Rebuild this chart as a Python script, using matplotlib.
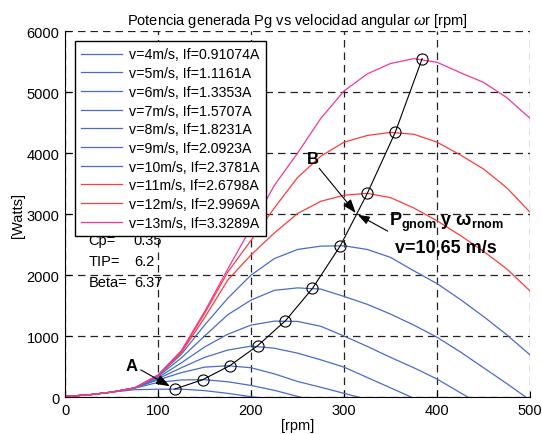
import matplotlib
matplotlib.use('Agg')
import matplotlib.pyplot as plt
import numpy as np

# Configuración estética (estilo Matlab)
plt.rcParams['font.family'] = ['Liberation Sans', 'DejaVu Sans']
plt.rcParams['mathtext.fontset'] = 'custom'
plt.rcParams['mathtext.rm'] = 'Liberation Sans'
plt.rcParams['mathtext.it'] = 'Liberation Sans:italic'
plt.rcParams['mathtext.bf'] = 'Liberation Sans:bold'
plt.rcParams['xtick.direction'] = 'in'
plt.rcParams['ytick.direction'] = 'in'

# Datos
rpm = [0, 25, 50, 75, 100, 125, 150, 175, 200, 225, 250, 275, 300, 325, 350,
       375, 400, 425, 450, 475, 500]

p4 = [10, 35, 80, 120, 128, 130, 105, 60, 5, -45]
p5 = [10, 35, 80, 145, 240, 280, 284, 250, 190, 110, 10, -80]
p6 = [10, 35, 80, 150, 280, 400, 490, 513, 480, 380, 255, 160, 60, -40]
p7 = [10, 35, 80, 150, 300, 480, 650, 770, 835, 800, 720, 610, 490, 320, 150, -20]
p8 = [10, 35, 80, 150, 320, 560, 820, 1030, 1180, 1245, 1240, 1160, 1000, 830,
      650, 480, 295, 70, -150]
p9 = [10, 35, 80, 150, 340, 640, 1000, 1350, 1590, 1750, 1790, 1770, 1650, 1520,
      1360, 1180, 980, 740, 480, 220, -50]
p10 = [10, 35, 80, 150, 350, 700, 1180, 1620, 2000, 2270, 2420, 2475, 2480, 2420,
       2290, 2070, 1860, 1600, 1320, 1020, 690]
p11 = [10, 35, 80, 150, 355, 730, 1300, 1920, 2330, 2690, 3010, 3210, 3310, 3340,
       3270, 3100, 2890, 2650, 2390, 2100, 1740]
p12 = [10, 35, 80, 150, 360, 750, 1370, 2050, 2570, 3100, 3600, 3950, 4180, 4290,
       4340, 4310, 4180, 3970, 3740, 3430, 3030]
p13 = [10, 35, 80, 150, 360, 760, 1400, 2100, 2780, 3470, 4000, 4570, 5020, 5300,
       5470, 5550, 5490, 5320, 5160, 4910, 4570]

curvas = [p4, p5, p6, p7, p8, p9, p10, p11, p12, p13]
etiquetas = ['v=4m/s, If=0.91074A', 'v=5m/s, If=1.1161A', 'v=6m/s, If=1.3353A',
             'v=7m/s, If=1.5707A', 'v=8m/s, If=1.8231A', 'v=9m/s, If=2.0923A',
             'v=10m/s, If=2.3781A', 'v=11m/s, If=2.6798A', 'v=12m/s, If=2.9969A',
             'v=13m/s, If=3.3289A']
colores = ['#4a6cc8'] * 7 + ['#ff3b3b', '#ff3b3b', '#f0379f']

# Puntos de máxima potencia
peak_rpm = [118, 148, 177, 207, 237, 266, 296, 325, 355, 384]
peak_w = [131, 284, 513, 841, 1251, 1781, 2481, 3340, 4340, 5550]

p_nom = 3000
params = [('Cp=', '0.35'), ('TIP=', '6.2'), ('Beta=', '6.37')]


def graficar():
    fig = plt.figure(figsize=(5.42, 4.35), dpi=100)
    ax = fig.add_axes([0.12, 0.085, 0.858, 0.841])

    for p, lab, c in zip(curvas, etiquetas, colores):
        ax.plot(rpm[:len(p)], p, color=c, linewidth=0.9, label=lab)

    ax.plot(peak_rpm, peak_w, 'k-', linewidth=0.8, marker='o', markersize=8,
            markerfacecolor='none', markeredgecolor='k', markeredgewidth=0.8)

    ax.set_xlim(0, 500)
    ax.set_ylim(0, 6000)
    ax.set_xticks(range(0, 501, 100))
    ax.set_yticks(range(0, 6001, 1000))
    ax.tick_params(labelsize=10.5, length=4, top=False, right=False, pad=4)
    ax.grid(True, color='#222222', linestyle=(0, (6, 4)), linewidth=0.9)
    ax.spines['top'].set_visible(False)
    ax.spines['right'].set_visible(False)

    ax.set_title(r'Potencia generada Pg vs velocidad angular $\omega$r [rpm]',
                 fontsize=10.5, pad=5)
    ax.set_xlabel('[rpm]', fontsize=10.5, labelpad=1)
    ax.set_ylabel('[Watts]', fontsize=10.5, labelpad=1)

    leg = ax.legend(loc='upper left', fontsize=10.2, handlelength=2.9,
                    handletextpad=0.5, labelspacing=0.33, borderaxespad=0.7,
                    borderpad=0.45, fancybox=False, framealpha=1,
                    edgecolor='black')
    leg.get_frame().set_linewidth(1.0)

    for i, (nombre, valor) in enumerate(params):
        y = 2580 - i * 345
        ax.text(25, y, nombre, fontsize=10.5, va='center')
        ax.text(74, y, valor, fontsize=10.5, va='center')

    # Anotaciones A y B
    flecha = dict(arrowstyle='-|>,head_length=0.7,head_width=0.25', color='k',
                  linewidth=0.8, shrinkA=0, shrinkB=4)
    ax.annotate('A', xy=(peak_rpm[0], peak_w[0]), xytext=(72, 520),
                fontsize=12, fontweight='bold', ha='center', va='center',
                arrowprops=dict(flecha, relpos=(1, 0.3)))

    rpm_nom = np.interp(p_nom, peak_w, peak_rpm)
    ax.annotate('B', xy=(rpm_nom, p_nom), xytext=(267, 3920),
                fontsize=12, fontweight='bold', ha='center', va='center',
                arrowprops=dict(flecha, shrinkB=1, relpos=(0.8, 0)))
    ax.annotate('', xy=(rpm_nom, p_nom), xytext=(347, 2720),
                arrowprops=dict(flecha, shrinkB=1))
    ax.text(348, 2880, r'$\mathbf{P_{gnom}\ y\ \omega_{rnom}}$', fontsize=13,
            va='center', ha='left')
    ax.text(355, 2450, 'v=10,65 m/s', fontsize=13, fontweight='bold',
            va='center', ha='left')

    fig.savefig('out.png', dpi=100)
    plt.close(fig)


if __name__ == '__main__':
    graficar()
